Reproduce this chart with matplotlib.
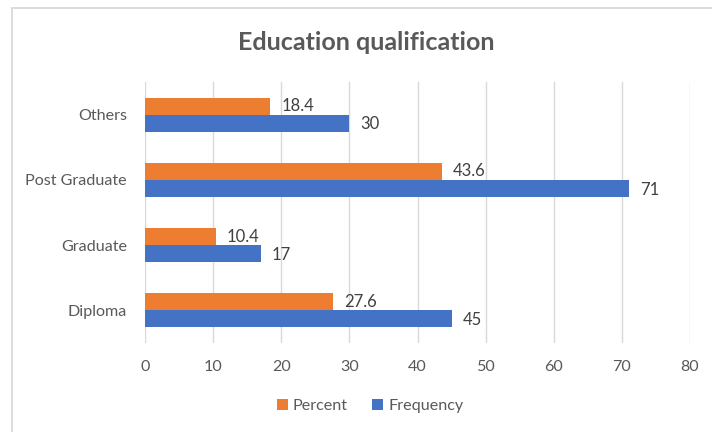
import matplotlib.pyplot as plt
from matplotlib.patches import Rectangle
import numpy as np

categories = ["Diploma", "Graduate", "Post Graduate", "Others"]
percent = [27.6, 10.4, 43.6, 18.4]
frequency = [45, 17, 71, 30]
xticks = [0, 10, 20, 30, 40, 50, 60, 70, 80]

ORANGE = "#ED7D31"
BLUE = "#4472C4"
GRID = "#D9D9D9"
TEXT = "#595959"

plt.rcParams['font.family'] = ['Lato', 'DejaVu Sans']

fig = plt.figure(figsize=(7.12, 4.32), dpi=100)
fig.patch.set_facecolor("white")

# chart frame
fig.add_artist(Rectangle((11.5 / 712, -0.05), 1.2, 1.05 - 7.5 / 432,
                         transform=fig.transFigure, fill=False,
                         edgecolor=GRID, linewidth=1.3, clip_on=False))

ax = fig.add_axes([145 / 712, (432 - 343) / 432, 545 / 712, 261 / 432])
y = np.arange(len(categories))
h = 0.26
ax.barh(y + h / 2, percent, height=h, color=ORANGE, label="Percent", zorder=3)
ax.barh(y - h / 2, frequency, height=h, color=BLUE, label="Frequency", zorder=3)

for yi, v in zip(y, percent):
    ax.annotate(f"{v}", (v, yi + h / 2), xytext=(8, 0), textcoords="offset points",
                va="center", ha="left", fontsize=12, color="#404040")
for yi, v in zip(y, frequency):
    ax.annotate(f"{v}", (v, yi - h / 2), xytext=(8, -1), textcoords="offset points",
                va="center", ha="left", fontsize=12, color="#404040")

ax.set_xlim(0, 80)
ax.set_ylim(-0.5, len(categories) - 0.5)
ax.set_xticks(xticks)
ax.set_yticks(y)
ax.set_yticklabels(categories)
ax.tick_params(axis="both", length=0, labelsize=11.6, labelcolor=TEXT)
ax.tick_params(axis="y", pad=13)
ax.tick_params(axis="x", pad=12)
ax.grid(axis="x", color=GRID, linewidth=1, zorder=0)
for s in ax.spines.values():
    s.set_visible(False)

fig.text(366 / 712, 1 - 42 / 432, "Education qualification", ha="center", va="center",
         fontsize=18, fontweight="bold", color=TEXT)

handles, labels = ax.get_legend_handles_labels()
fig.legend(handles, labels, loc="center", bbox_to_anchor=(370 / 712, 1 - 406 / 432),
           ncol=2, frameon=False, fontsize=11.6, labelcolor=TEXT,
           handlelength=0.7, handleheight=0.7, handletextpad=0.3, columnspacing=1.5)

fig.savefig("out.png", dpi=100)
